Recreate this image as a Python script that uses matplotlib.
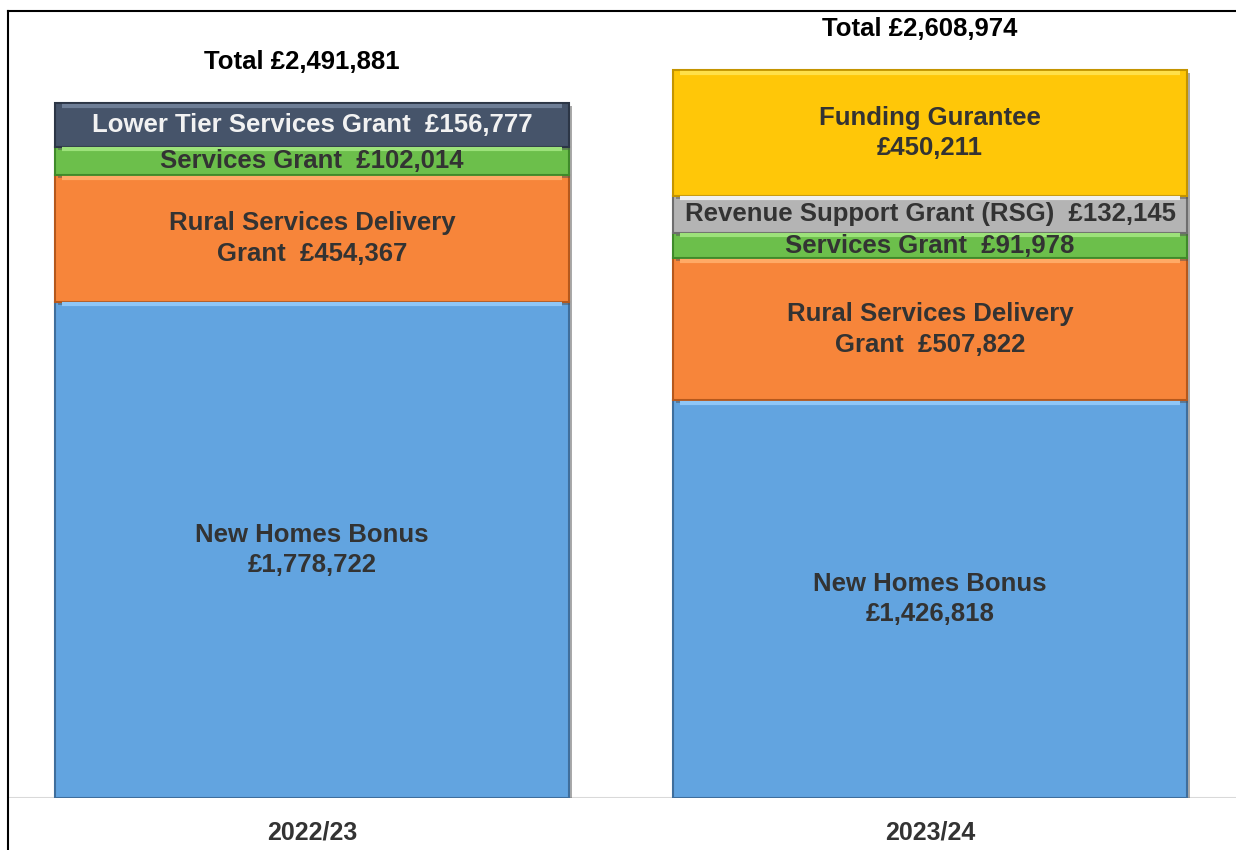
import matplotlib
matplotlib.use("Agg")
import matplotlib.pyplot as plt
import matplotlib.patheffects as pe
from matplotlib.lines import Line2D
import numpy as np

plt.rcParams['font.family'] = ['Liberation Sans', 'DejaVu Sans']

years = ["2022/23", "2023/24"]
totals = [2491881, 2608974]

# segments from bottom to top, one list per grant (0 = not present that year)
seg_names = ["New Homes Bonus", "Rural Services Delivery Grant", "Services Grant",
             "Revenue Support Grant (RSG)", "Lower Tier Services Grant", "Funding Gurantee"]
seg_values = [
    [1778722, 1426818],
    [454367, 507822],
    [102014, 91978],
    [0, 132145],
    [156777, 0],
    [0, 450211],
]
seg_labels = [
    ["New Homes Bonus\n£1,778,722", "New Homes Bonus\n£1,426,818"],
    ["Rural Services Delivery\nGrant  £454,367", "Rural Services Delivery\nGrant  £507,822"],
    ["Services Grant  £102,014", "Services Grant  £91,978"],
    ["", "Revenue Support Grant (RSG)  £132,145"],
    ["Lower Tier Services Grant  £156,777", ""],
    ["", "Funding Gurantee\n£450,211"],
]
seg_colors = ["#62A4E0", "#F7853A", "#6CBF4B", "#B4B4B4", "#46546A", "#FFC708"]
edge_colors = ["#3F6E9C", "#B5581C", "#3F8A2A", "#6E6E6E", "#2C3646", "#C49400"]
hi_colors = ["#8EC6F7", "#FFAA66", "#9CE27A", "#F0F0F0", "#6E7E96", "#FFE04A"]
text_colors = ["#333333", "#333333", "#333333", "#333333", "#F2F2F2", "#333333"]

fig = plt.figure(figsize=(12.36, 8.5), dpi=100)
ax = fig.add_axes([8 / 1236, 52 / 850, 1228 / 1236, 787 / 850])

x = np.arange(len(years))
width = 0.832
bottom = np.zeros(len(years))
for i in range(len(seg_names)):
    vals = np.array(seg_values[i], dtype=float)
    bars = ax.bar(x, vals, width, bottom=bottom, color=seg_colors[i],
                  edgecolor=edge_colors[i], linewidth=1.5, zorder=2)
    for j, b in enumerate(bars):
        if vals[j] == 0:
            b.set_visible(False)
            continue
        b.set_path_effects([pe.SimplePatchShadow(offset=(2, -2), shadow_rgbFace="#555555", alpha=0.5),
                            pe.Normal()])
        top = bottom[j] + vals[j]
        # bevel highlight along the top of the segment
        ax.plot([x[j] - width / 2 + 0.012, x[j] + width / 2 - 0.012], [top - 9000, top - 9000],
                color=hi_colors[i], lw=3, solid_capstyle="butt", zorder=3)
        ax.text(x[j], bottom[j] + vals[j] / 2, seg_labels[i][j], ha="center", va="center",
                fontsize=18.5, fontweight="bold", color=text_colors[i],
                linespacing=1.35, zorder=4)
    bottom += vals

for j in range(len(years)):
    ax.annotate("Total £{:,}".format(totals[j]), (x[j], totals[j]), xytext=(-10, 41),
                textcoords="offset pixels", ha="center", va="center",
                fontsize=18.5, fontweight="bold", color="black")

ax.axhline(0, color="#D9D9D9", lw=1.5, zorder=1)
ax.set_xlim(-0.492, 1.495)
ax.set_ylim(0, 787 / 695 * totals[0])
ax.set_xticks(x)
ax.set_xticklabels(years, fontsize=18, fontweight="bold", color="#333333")
ax.tick_params(axis="x", length=0, pad=16)
ax.set_yticks([])
ax.spines["right"].set_visible(False)
ax.spines["bottom"].set_visible(False)
ax.spines["left"].set_visible(False)
ax.spines["top"].set_linewidth(1.5)

# outer frame line on the left runs to the bottom of the picture
fig.add_artist(Line2D([8 / 1236, 8 / 1236], [0, 839 / 850], color="black", lw=1.5,
                      transform=fig.transFigure))

fig.savefig("out.png", dpi=100)
